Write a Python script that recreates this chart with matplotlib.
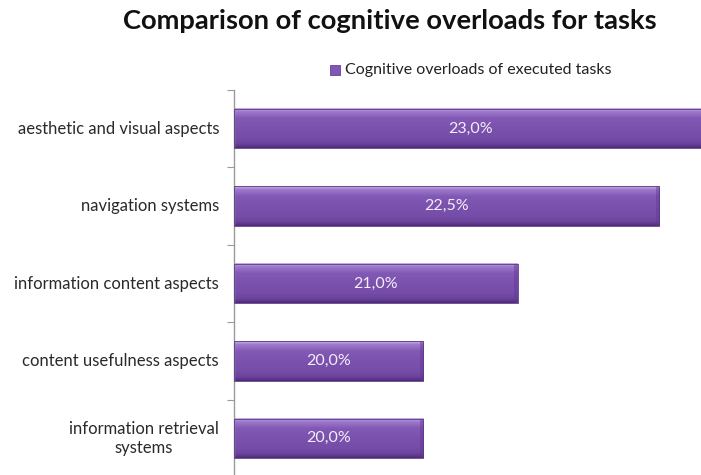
import numpy as np
import matplotlib
matplotlib.use("Agg")
import matplotlib.pyplot as plt
from matplotlib.patches import Rectangle

plt.rcParams['font.family'] = ['Lato', 'DejaVu Sans']

categories = [
    "aesthetic and visual aspects",
    "navigation systems",
    "information content aspects",
    "content usefulness aspects",
    "information retrieval\nsystems",
]
values = [23.0, 22.5, 21.0, 20.0, 20.0]
value_labels = ["23,0%", "22,5%", "21,0%", "20,0%", "20,0%"]
series_name = "Cognitive overloads of executed tasks"
title = "Comparison of cognitive overloads for tasks"

W, H = 701, 475
fig = plt.figure(figsize=(W / 100, H / 100), dpi=100)

# axes region in pixels: left edge at the vertical axis line
ax_left, ax_right = 234, 701
ax_top, ax_bottom = 90, 477
ax = fig.add_axes([ax_left / W, 1 - ax_bottom / H,
                   (ax_right - ax_left) / W, (ax_bottom - ax_top) / H])

xmin, xmax = 18.0, 22.94
n = len(categories)

# vertical shading for the bevelled bars
grad_colors = np.array([
    [0.78, 0.69, 0.91],
    [0.62, 0.48, 0.80],
    [0.51, 0.35, 0.71],
    [0.48, 0.32, 0.68],
    [0.46, 0.30, 0.66],
    [0.42, 0.26, 0.61],
    [0.30, 0.17, 0.47],
])
stops = np.array([0.0, 0.08, 0.25, 0.5, 0.75, 0.9, 1.0])
rows = 64
t = np.linspace(0, 1, rows)
grad = np.stack([np.interp(t, stops, grad_colors[:, c]) for c in range(3)], axis=-1)
grad = grad[:, None, :]

bar_h = 0.51
for i, (v, lab) in enumerate(zip(values, value_labels)):
    y0 = i + 0.5 - bar_h / 2
    y1 = i + 0.5 + bar_h / 2
    ax.imshow(grad, extent=(xmin, v, y1, y0), aspect='auto',
              interpolation='bilinear', zorder=2)
    # slightly darker bevel at the bar end
    ax.add_patch(Rectangle((v - 0.035, y0), 0.035, bar_h,
                           facecolor=(0.38, 0.22, 0.57), edgecolor='none',
                           alpha=0.45, zorder=3))
    ax.add_patch(Rectangle((xmin, y0), v - xmin, bar_h, facecolor='none',
                           edgecolor=(0.36, 0.21, 0.53), lw=0.6, zorder=4))
    ax.text((xmin + v) / 2, i + 0.5, lab, ha='center', va='center',
            color='#f3eef8', fontsize=11.5, zorder=5)

ax.set_xlim(xmin, xmax)
ax.set_ylim(n, 0)

for s in ['top', 'right', 'bottom']:
    ax.spines[s].set_visible(False)
ax.spines['left'].set_color('#9a9a9a')
ax.spines['left'].set_linewidth(1.0)
ax.set_xticks([])
ax.set_yticks(np.arange(n + 1))
ax.set_yticklabels([])
ax.tick_params(axis='y', length=5, color='#9a9a9a', direction='out')

for i, c in enumerate(categories):
    fig.text(219 / W, 1 - (ax_top + (i + 0.5) * (ax_bottom - ax_top) / n) / H, c,
             ha='right', va='center', multialignment='center',
             fontsize=12, color='#2a2a2a', linespacing=1.2)

fig.text(390 / W, 1 - 29 / H, title, ha='center', va='baseline',
         fontsize=19.7, fontweight='bold', color='#111111')

# legend
fig.patches.append(Rectangle((330 / W, 1 - 75 / H), 10 / W, 10 / H,
                             transform=fig.transFigure, facecolor=(0.5, 0.34, 0.7),
                             edgecolor=(0.4, 0.25, 0.6), lw=0.6))
fig.text(345 / W, 1 - 70 / H, series_name, ha='left', va='center',
         fontsize=11.5, color='#222222')

fig.savefig("out.png", dpi=100)
